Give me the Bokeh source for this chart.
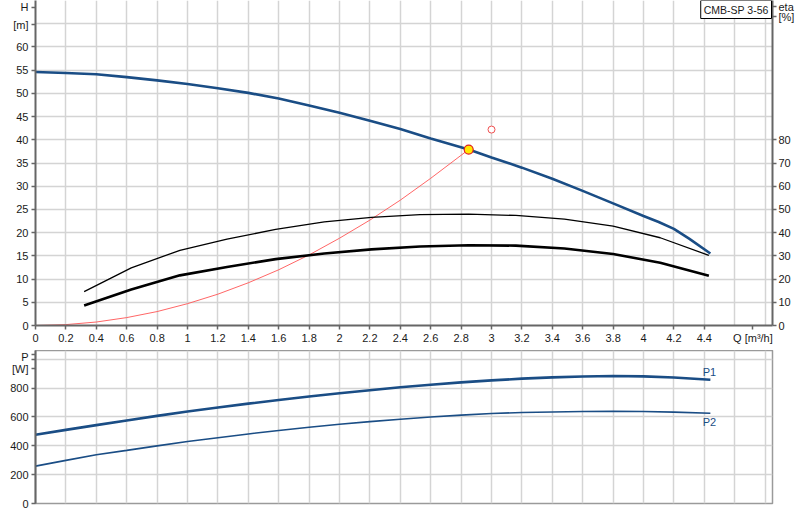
from bokeh.plotting import figure
from bokeh.models import Range1d, LinearAxis, FixedTicker, Label
from bokeh.layouts import column
from bokeh.embed import file_html
from bokeh.resources import INLINE

# ---------------- data ----------------
q_head = [0, 0.2, 0.4, 0.6, 0.8, 1.0, 1.2, 1.4, 1.6, 1.8, 2.0, 2.2, 2.4, 2.6, 2.85,
          3.0, 3.2, 3.4, 3.6, 3.8, 4.0, 4.1, 4.2, 4.3, 4.44]
head = [54.6, 54.4, 54.1, 53.5, 52.8, 52.0, 51.1, 50.1, 48.9, 47.4, 45.8, 44.1, 42.3, 40.3, 37.9,
        36.2, 34.0, 31.6, 29.0, 26.3, 23.6, 22.3, 20.8, 18.7, 15.5]

q_eta = [0.32, 0.63, 0.95, 1.26, 1.58, 1.9, 2.21, 2.53, 2.85, 3.16, 3.48, 3.8, 4.11, 4.43]
eta_pump = [14.6, 24.8, 32.4, 37.2, 41.4, 44.6, 46.6, 47.8, 48.0, 47.4, 45.8, 42.8, 37.8, 30.2]
eta_total = [8.6, 15.5, 21.6, 25.2, 28.6, 31.0, 32.8, 34.0, 34.6, 34.4, 33.2, 30.8, 27.0, 21.4]

q_sys = [0, 0.2, 0.4, 0.6, 0.8, 1.0, 1.2, 1.4, 1.6, 1.8, 2.0, 2.2, 2.4, 2.6, 2.85]
h_sys = [0, 0.19, 0.75, 1.7, 3.0, 4.7, 6.75, 9.2, 12.0, 15.2, 18.8, 22.7, 27.0, 31.7, 37.9]

op_q = [2.85]
op_h = [37.9]
duty_q = [3.0]
duty_h = [42.2]

q_pow = [0, 0.2, 0.4, 0.6, 0.8, 1.0, 1.2, 1.4, 1.6, 1.8, 2.0, 2.2, 2.4, 2.6, 2.8,
         3.0, 3.2, 3.4, 3.6, 3.8, 4.0, 4.2, 4.44]
p1_w = [476, 510, 543, 575, 607, 637, 665, 692, 717, 741, 764, 785, 805, 823, 839,
        853, 865, 874, 880, 883, 881, 873, 857]
p2_w = [259, 299, 338, 368, 399, 430, 456, 482, 506, 528, 549, 567, 584, 599, 612,
        624, 630, 634, 637, 638, 637, 633, 625]

x_grid = [0, 0.2, 0.4, 0.6, 0.8, 1.0, 1.2, 1.4, 1.6, 1.8, 2.0, 2.2, 2.4, 2.6, 2.8,
          3.0, 3.2, 3.4, 3.6, 3.8, 4.0, 4.2, 4.4, 4.6, 4.8]
x_ticks = [0, 0.2, 0.4, 0.6, 0.8, 1.0, 1.2, 1.4, 1.6, 1.8, 2.0, 2.2, 2.4, 2.6, 2.8,
           3.0, 3.2, 3.4, 3.6, 3.8, 4.0, 4.2, 4.4, 4.72]
x_unit = {4.72: "Q [m\u00b3/h]"}

h_ticks = [0, 5, 10, 15, 20, 25, 30, 35, 40, 45, 50, 55, 60, 64.8, 68.6]
h_unit = {64.8: "[m]", 68.6: "H"}
h_grid = [0, 5, 10, 15, 20, 25, 30, 35, 40, 45, 50, 55, 60, 65]

eta_ticks = [0, 10, 20, 30, 40, 50, 60, 70, 80, 133.0, 137.4]
eta_unit = {133.0: "[%]", 137.4: "eta"}

p_ticks = [0, 200, 400, 600, 800, 1000, 934, 1032]
p_unit = {1000: "", 934: "[W]", 1032: "P"}
p_grid = [0, 200, 400, 600, 800, 1000]

title_text = "CMB-SP 3-56"

# ---------------- style ----------------
FONT = "Liberation Sans"
BLUE = "#1a4d85"
GRID = "#d4d4d4"
AXIS = "#666666"
TXT = "#1a1a1a"

PX_PER_Q = 152.0
FRAME_W = 737
X_END = FRAME_W / PX_PER_Q


def style_axis(ax):
    ax.axis_line_color = AXIS
    ax.axis_line_width = 2
    ax.major_tick_line_color = AXIS
    ax.major_tick_line_width = 1.5
    ax.major_tick_out = 4
    ax.major_tick_in = 0
    ax.minor_tick_line_color = None
    ax.major_label_text_font = FONT
    ax.major_label_text_font_size = "11px"
    ax.major_label_text_color = TXT
    ax.major_label_standoff = 3


# ---------------- top chart ----------------
p1 = figure(frame_width=FRAME_W, frame_height=325,
            x_range=Range1d(0, X_END), y_range=Range1d(0, 70),
            output_backend="svg", toolbar_location=None,
            min_border_left=35, min_border_right=18, min_border_top=0, min_border_bottom=25)
p1.extra_y_ranges = {"eta": Range1d(0, 140)}
p1.outline_line_color = None

p1.xaxis.ticker = FixedTicker(ticks=x_ticks)
p1.xaxis.major_label_overrides = x_unit
p1.yaxis.ticker = FixedTicker(ticks=h_ticks)
p1.yaxis.major_label_overrides = h_unit
style_axis(p1.xaxis[0])
style_axis(p1.yaxis[0])
p1.xaxis.major_label_standoff = 2

eta_axis = LinearAxis(y_range_name="eta", ticker=FixedTicker(ticks=eta_ticks),
                      major_label_overrides=eta_unit)
style_axis(eta_axis)
eta_axis.major_label_standoff = 2
p1.add_layout(eta_axis, "right")

p1.xgrid.ticker = FixedTicker(ticks=x_grid)
p1.ygrid.ticker = FixedTicker(ticks=h_grid)
for g in (p1.xgrid[0], p1.ygrid[0]):
    g.grid_line_color = GRID
    g.grid_line_width = 1.5

p1.line(q_sys, h_sys, line_color="#ff5555", line_width=1, line_alpha=0.9)
p1.line(q_eta, eta_pump, line_color="black", line_width=1.3, y_range_name="eta")
p1.line(q_eta, eta_total, line_color="black", line_width=2.6, y_range_name="eta")
p1.line(q_head, head, line_color=BLUE, line_width=2.6)
p1.scatter(op_q, op_h, size=9, fill_color="#ffe800", line_color="#e02020", line_width=1.2)
p1.scatter(duty_q, duty_h, size=7, fill_color="white", line_color="#f05050", line_width=1)

box = Label(x=X_END, y=70, text=title_text, text_align="right", text_baseline="top",
            text_font=FONT, text_font_size="10.5px", text_color=TXT,
            padding=3, border_line_color="black", border_line_width=1,
            background_fill_color="white", x_offset=-1, y_offset=0)
p1.add_layout(box)

# ---------------- bottom chart ----------------
p2 = figure(frame_width=FRAME_W, frame_height=153,
            x_range=p1.x_range, y_range=Range1d(0, 1060),
            output_backend="svg", toolbar_location=None,
            min_border_left=35, min_border_right=18, min_border_top=0, min_border_bottom=8)
p2.outline_line_color = "#9a9a9a"
p2.outline_line_width = 1.5
p2.xaxis.visible = False
p2.yaxis.ticker = FixedTicker(ticks=p_ticks)
p2.yaxis.major_label_overrides = p_unit
style_axis(p2.yaxis[0])
p2.xgrid.ticker = FixedTicker(ticks=x_grid)
p2.ygrid.ticker = FixedTicker(ticks=p_grid)
for g in (p2.xgrid[0], p2.ygrid[0]):
    g.grid_line_color = GRID
    g.grid_line_width = 1.5

p2.line(q_pow, p1_w, line_color=BLUE, line_width=2.6)
p2.line(q_pow, p2_w, line_color=BLUE, line_width=1.6)

for name, yv in (("P1", 952), ("P2", 606)):
    p2.add_layout(Label(x=4.39, y=yv, text=name, text_align="left", text_baseline="top",
                        text_font=FONT, text_font_size="11px", text_color=BLUE))

layout = column(p1, p2, spacing=0)
open("out.html", "w").write(file_html(layout, INLINE))
